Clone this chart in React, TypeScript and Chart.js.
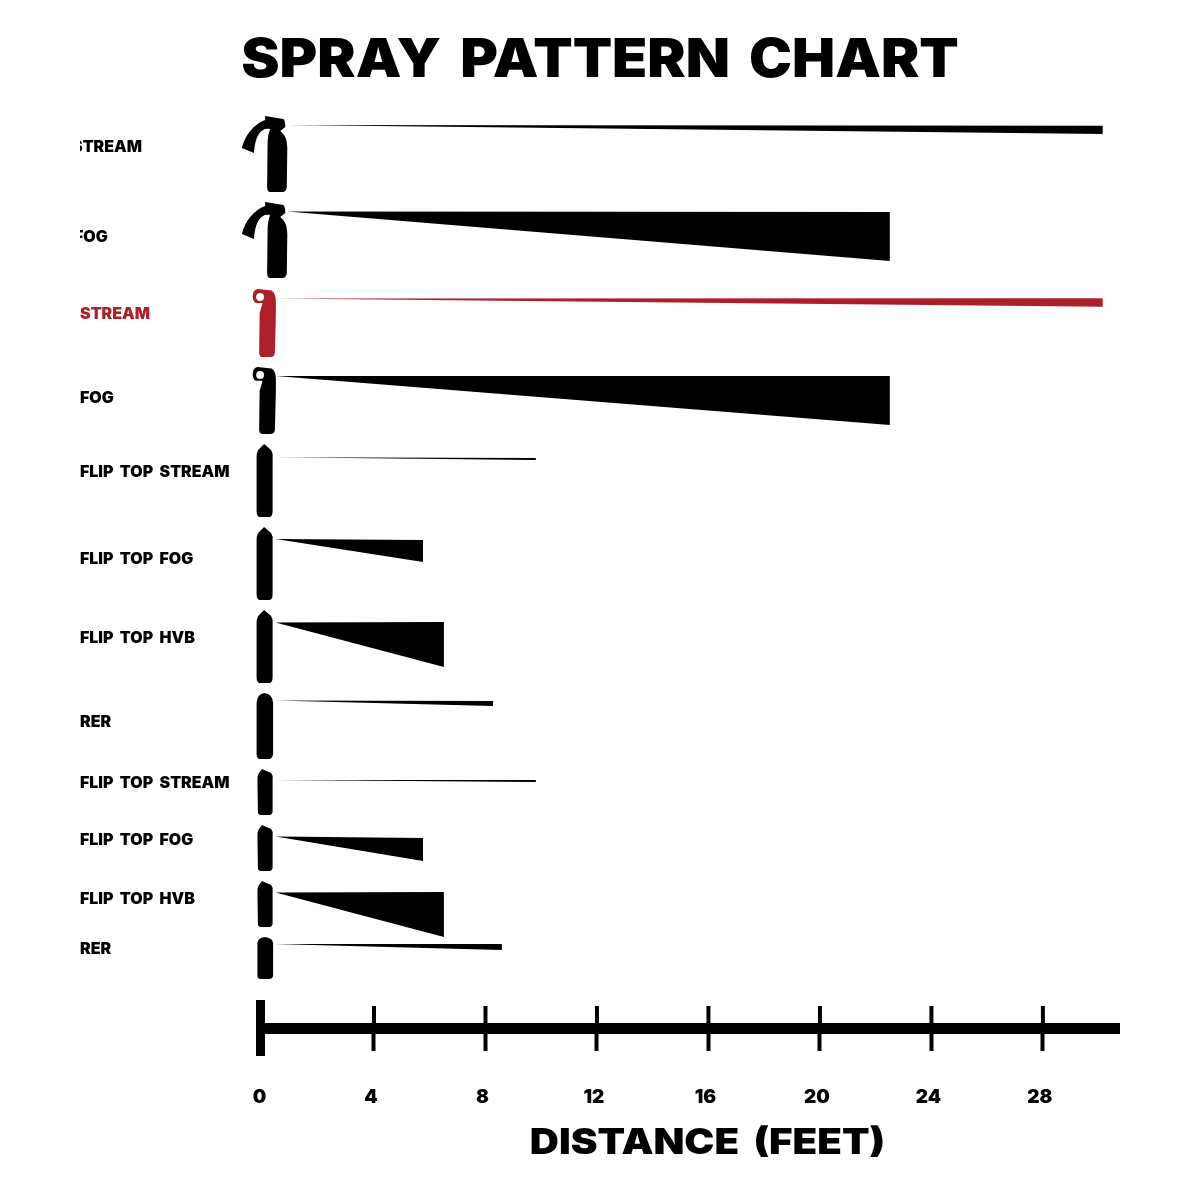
import React, { useEffect, useRef } from "react";
import { Chart, registerables } from "chart.js";

Chart.register(...registerables);

const FONT = "Inter";
const BLACK = "#000000";
const RED = "#ad2029";

const titleText = "SPRAY PATTERN CHART";
const axisTitle = "DISTANCE (FEET)";

const rowLabels = ["STREAM", "FOG", "STREAM", "FOG", "FLIP TOP STREAM", "FLIP TOP FOG", "FLIP TOP HVB", "RER", "FLIP TOP STREAM", "FLIP TOP FOG", "FLIP TOP HVB", "RER"];
const labelY = [47, 137.5, 214.2, 298, 372.2, 459.2, 538.2, 622, 683.2, 740.2, 799.2, 849.7];
const labelCut = [8, 6, 0, 0, 0, 0, 0, 0, 0, 0, 0, 0];
const rowColors = [BLACK, BLACK, RED, BLACK, BLACK, BLACK, BLACK, BLACK, BLACK, BLACK, BLACK, BLACK];

// Spray wedges: distance in feet, vertical position in plot units
const sprayStart = [0.88, 0.88, 0.48, 0.48, 0.42, 0.47, 0.47, 0.45, 0.42, 0.47, 0.47, 0.42];
const sprayEnd = [30.15, 22.51, 30.15, 22.51, 9.81, 5.76, 6.51, 8.27, 9.81, 5.76, 6.51, 8.59];
const tipY = [25, 111.5, 198.5, 276, 357.3, 439, 522.5, 600.5, 680, 736.5, 792.5, 844];
const endTop = [25.7, 112, 198.3, 276, 358, 440, 522, 601, 680, 738, 792, 844];
const endBottom = [34, 161, 206.7, 325, 360, 462, 567, 606, 682, 761, 837, 850];

// Canisters
const canKind = ["hook", "hook", "pistol", "pistol", "flip", "flip", "flip", "rer", "small", "small", "small", "rer"];
const canLeft = [-0.74, -0.74, -0.35, -0.35, -0.23, -0.23, -0.23, -0.23, -0.2, -0.2, -0.2, -0.2];
const canRight = [0.89, 0.89, 0.48, 0.48, 0.38, 0.38, 0.38, 0.38, 0.38, 0.38, 0.38, 0.38];
const canTop = [16, 102, 189, 267, 344, 427, 510, 593, 669, 725, 781, 837];
const canBottom = [92, 178, 257, 334, 417, 500, 583, 659, 715, 771, 827, 879];

const canShapes: Record<string, { w: number; h: number; d: string }> = {
  hook: { w: 45, h: 76, d: "M23 0 L41 3 Q43 4 43 11 L38 15 Q45 20 45 32 L44.5 71 Q44 76 40 76 L28 76 Q25 76 25 71 L25.5 26 Q26 18 28 13 C20 11 13 18 12 37 L0 32 C3 19 12 8 23 4 Z" },
  pistol: { w: 23.5, h: 68, d: "M5 0 L19 1.5 Q23.5 4 23.5 12 L23.5 24 L22.5 64 Q22 68 18 68 L9.5 68 Q6.5 68 6.5 63 L7 24 L10 14 L3 14 Q0 12 0 7 Q0 1 5 0 Z M3.5 8 a4 4 0 1 0 8 0 a4 4 0 1 0 -8 0 Z" },
  flip: { w: 17, h: 73, d: "M8 0 L15 6 Q17 9 16.5 14 L16.5 67 Q16.5 73 13 73 L4 73 Q0.5 73 0.5 67 L0.5 14 Q0 10 2 6 Z" },
  small: { w: 16, h: 46, d: "M5 0 L14 4 Q16 6 15.5 10 L15.5 43 Q15 46 12 46 L4 46 Q1 46 1 43 L0.5 11 Q0 7 2 4 Z" },
  rer: { w: 16.5, h: 66, d: "M8 0 Q16 1 16.5 10 L16.5 61 Q16 66 12 66 L4 66 Q0.5 66 0.5 61 L0.5 10 Q1 1 8 0 Z" },
};

const tickValues = [0, 4, 8, 12, 16, 20, 24, 28];

function wideText(ctx: any, text: string, x: number, y: number, font: string, stretch: number, gap: number, align: string, color: string) {
  ctx.save();
  ctx.translate(x, y);
  ctx.scale(stretch, 1);
  ctx.font = font;
  ctx.wordSpacing = `${gap}px`;
  ctx.textAlign = align;
  ctx.textBaseline = "middle";
  ctx.fillStyle = color;
  ctx.fillText(text, 0, 0);
  ctx.restore();
}

const decorPlugin = {
  id: "sprayDecor",
  afterDatasetsDraw(chart: any) {
    const { ctx, scales } = chart;
    const x = scales.x;
    const y = scales.y;
    // canisters
    canKind.forEach((kind, i) => {
      const s = canShapes[kind];
      const l = x.getPixelForValue(canLeft[i]);
      const r = x.getPixelForValue(canRight[i]);
      const t = y.getPixelForValue(canTop[i]);
      const b = y.getPixelForValue(canBottom[i]);
      ctx.save();
      ctx.translate(l, t);
      ctx.scale((r - l) / s.w, (b - t) / s.h);
      ctx.fillStyle = rowColors[i];
      ctx.fill(new Path2D(s.d), "evenodd");
      ctx.restore();
    });
    // row labels, cut at the left edge of the label column
    const labelLeft = 80;
    ctx.save();
    ctx.beginPath();
    ctx.rect(labelLeft, 0, 400, chart.height);
    ctx.clip();
    rowLabels.forEach((label, i) => {
      wideText(ctx, label, labelLeft - labelCut[i], y.getPixelForValue(labelY[i]), `900 15.5px ${FONT}`, 1.03, 3.1, "left", rowColors[i]);
    });
    ctx.restore();
    // upper half of the axis ticks and the heavier zero tick
    const axisY = y.getPixelForValue(928);
    ctx.save();
    ctx.fillStyle = BLACK;
    tickValues.forEach((v) => {
      const px = x.getPixelForValue(v);
      if (v === 0) ctx.fillRect(px - 6.5, axisY - 28, 9, 56);
      else ctx.fillRect(px - 2, axisY - 22, 4, 22);
    });
    ctx.restore();
    // titles
    wideText(ctx, axisTitle, 707.5, axisY + 115, `900 35px ${FONT}`, 1.15, 5.5, "center", BLACK);
    wideText(ctx, titleText, 600, 61, `900 53px ${FONT}`, 1.085, 7, "center", BLACK);
  },
};

export default function App() {
  const ref = useRef<HTMLCanvasElement>(null);
  useEffect(() => {
    if (!ref.current) return;
    const datasets: any[] = [];
    rowLabels.forEach((label, i) => {
      datasets.push({
        label: `${label} edge`,
        data: [{ x: sprayStart[i], y: tipY[i] }, { x: sprayEnd[i], y: endTop[i] }],
        showLine: true,
        pointRadius: 0,
        borderWidth: 0,
        borderColor: rowColors[i],
        fill: false,
      });
      datasets.push({
        label,
        data: [{ x: sprayStart[i], y: tipY[i] }, { x: sprayEnd[i], y: endBottom[i] }],
        showLine: true,
        pointRadius: 0,
        borderWidth: 0,
        borderColor: rowColors[i],
        backgroundColor: rowColors[i],
        fill: { target: "-1", above: rowColors[i], below: rowColors[i] },
      });
    });
    const chart = new Chart(ref.current, {
      type: "scatter",
      data: { datasets },
      plugins: [decorPlugin],
      options: {
        animation: false,
        responsive: false,
        layout: { padding: { left: 262.5, right: 81, top: 100, bottom: 0 } },
        plugins: {
          legend: { display: false },
          tooltip: { enabled: false },
          title: { display: false },
        },
        scales: {
          x: {
            type: "linear",
            min: 0,
            max: 30.73,
            position: "bottom",
            border: { display: true, width: 11, color: BLACK },
            grid: { display: true, drawOnChartArea: false, drawTicks: true, tickLength: 23, tickWidth: 4, tickColor: BLACK },
            ticks: {
              stepSize: 4,
              includeBounds: false,
              autoSkip: false,
              maxRotation: 0,
              labelOffset: -3,
              padding: 35,
              color: BLACK,
              font: { family: FONT, size: 19, weight: "900" },
            },
            afterFit: (s: any) => { s.height = 172; },
          },
          y: {
            type: "linear",
            display: false,
            reverse: true,
            min: 0,
            max: 928,
          },
        },
      } as any,
    });
    return () => chart.destroy();
  }, []);
  return (
    <div style={{ position: "absolute", left: 0, top: 0, width: 1200, height: 1200, background: "#fff" }}>
      <canvas ref={ref} width={1200} height={1200} style={{ display: "block" }} />
    </div>
  );
}
